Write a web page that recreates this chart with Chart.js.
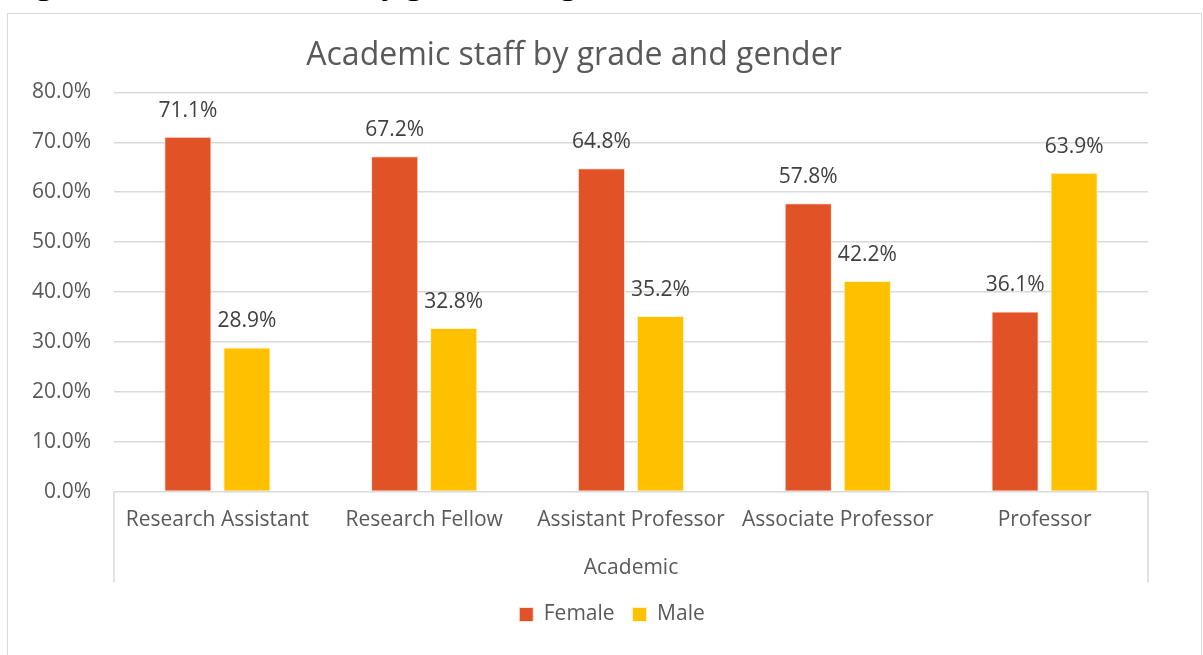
<!DOCTYPE html>
<html lang="en">
<head>
  <meta charset="UTF-8">
  <title>Academic staff by grade and gender</title>
  <style>
    html, body { margin: 0; padding: 0; background: #fff; overflow: hidden; }
    #wrap { position: relative; width: 1203px; height: 655px; overflow: hidden; }
    #caption {
      position: absolute; left: 12px; top: -33px;
      font-family: "Open Sans", sans-serif; font-size: 31px; line-height: 31px;
      color: #000; white-space: nowrap;
    }
    #frame {
      position: absolute; left: 7px; top: 13px; width: 1195px; height: 700px;
      border: 1px solid #d9d9d9; box-sizing: border-box; background: #fff;
    }
    #chart { position: absolute; left: 0; top: 0; }
  </style>
</head>
<body>
<div id="wrap">
  <div id="caption">Figure 4: Academic staff by grade and gender</div>
  <div id="frame"></div>
  <canvas id="chart" width="1203" height="655"></canvas>
</div>

<script src="https://cdn.jsdelivr.net/npm/chart.js"></script>
<script>
  // values
  const grades = ['Research Assistant', 'Research Fellow', 'Assistant Professor', 'Associate Professor', 'Professor'];
  const female = [71.1, 67.2, 64.8, 57.8, 36.1];
  const male = [28.9, 32.8, 35.2, 42.2, 63.9];
  const yTicks = [0, 10, 20, 30, 40, 50, 60, 70, 80];

  const grey = '#595959';
  const font = 'Open Sans';

  // percentage labels above each bar
  const barLabels = {
    id: 'barLabels',
    afterDatasetsDraw(chart) {
      const ctx = chart.ctx;
      ctx.save();
      ctx.font = '21px "' + font + '"';
      ctx.fillStyle = '#404040';
      ctx.textAlign = 'center';
      ctx.textBaseline = 'middle';
      chart.data.datasets.forEach((ds, i) => {
        chart.getDatasetMeta(i).data.forEach((bar, j) => {
          ctx.fillText(ds.data[j].toFixed(1) + '%', bar.x, bar.y - 26);
        });
      });
      ctx.restore();
    }
  };

  // excel style group box under the category axis
  const groupBox = {
    id: 'groupBox',
    afterDraw(chart) {
      const a = chart.chartArea;
      const ctx = chart.ctx;
      ctx.save();
      ctx.strokeStyle = '#d9d9d9';
      ctx.lineWidth = 1.5;
      ctx.beginPath();
      ctx.moveTo(a.left, a.bottom);
      ctx.lineTo(a.left, a.bottom + 91);
      ctx.moveTo(a.right, a.bottom);
      ctx.lineTo(a.right, a.bottom + 91);
      ctx.stroke();
      ctx.restore();
    }
  };

  // legend sits a little right of the plot centre in the original
  const legendShift = {
    id: 'legendShift',
    afterLayout(chart) {
      chart.legend.left += 38;
      chart.legend.right += 38;
    }
  };

  new Chart(document.getElementById('chart'), {
    type: 'bar',
    data: {
      labels: grades,
      datasets: [
        { label: 'Female', data: female, backgroundColor: '#E15327', borderColor: '#fbe3da', borderWidth: 1 },
        { label: 'Male', data: male, backgroundColor: '#FFC000', borderColor: '#fff3cc', borderWidth: 1 }
      ]
    },
    options: {
      responsive: false,
      devicePixelRatio: 1,
      animation: false,
      categoryPercentage: 0.571,
      barPercentage: 0.8,
      layout: { padding: { left: 0, right: 55, top: 0, bottom: 20 } },
      plugins: {
        title: {
          display: true,
          text: 'Academic staff by grade and gender',
          color: grey,
          font: { family: font, size: 32, weight: 'normal' },
          padding: { top: 37, bottom: 17 }
        },
        legend: {
          position: 'bottom',
          labels: {
            color: grey,
            font: { family: font, size: 21 },
            boxWidth: 14,
            boxHeight: 14,
            padding: 18
          }
        },
        tooltip: { enabled: false }
      },
      scales: {
        x: {
          grid: { display: false },
          border: { display: false },
          ticks: { color: grey, font: { family: font, size: 21 }, padding: 8 },
          title: {
            display: true,
            text: 'Academic',
            color: grey,
            font: { family: font, size: 21 },
            padding: { top: 15, bottom: 5 }
          }
        },
        y: {
          min: 0,
          max: 80,
          afterFit(scale) { scale.width = 114; },
          afterBuildTicks(scale) { scale.ticks = yTicks.map(v => ({ value: v })); },
          grid: { color: '#d9d9d9', lineWidth: 1.5, drawTicks: false },
          border: { display: false },
          ticks: {
            color: grey,
            font: { family: font, size: 21 },
            padding: 23,
            callback: v => v.toFixed(1) + '%'
          }
        }
      }
    },
    plugins: [barLabels, groupBox, legendShift]
  });
</script>
</body>
</html>
